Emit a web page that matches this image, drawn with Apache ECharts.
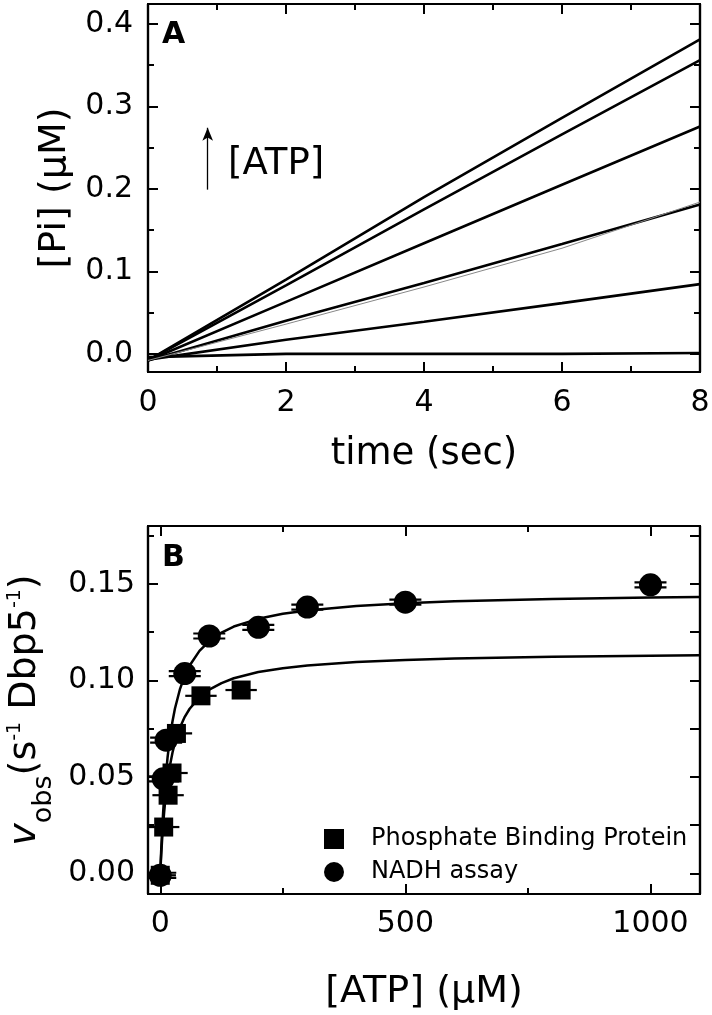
<!DOCTYPE html>
<html><head><meta charset="utf-8">
<script src="https://cdn.jsdelivr.net/npm/echarts@6/dist/echarts.min.js"></script>
<style>html,body{margin:0;padding:0;background:#fff}#c{width:712px;height:1015px}</style>
</head><body><div id="c"></div>
<script>
// ---------- Panel A data ----------
const timeA = [0, 2, 4, 6, 8];
const piLine1 = [-0.008, 0.090, 0.190, 0.286, 0.381];
const piLine2 = [-0.008, 0.083, 0.175, 0.266, 0.356];
const piLine3 = [-0.008, 0.063, 0.134, 0.205, 0.2755];
const piLine4 = [-0.008, 0.040, 0.086, 0.133, 0.181];
const piLine5 = [-0.007, 0.017, 0.039, 0.0615, 0.0845];
const piLine6 = [-0.004, 0.000, 0.000, 0.000, 0.001];
const piTrace4 = [-0.008, 0.036, 0.081, 0.128, 0.184];
const arrowX = 0.865, arrowY = [0.199, 0.274];
const aXTicks = [0, 2, 4, 6, 8], aXMinor = [1, 3, 5, 7];
const aYTicks = [0, 0.1, 0.2, 0.3, 0.4], aYMinor = [0.05, 0.15, 0.25, 0.35];

// ---------- Panel B data ----------
const pbpX = [0, 7, 16, 24, 33, 83, 165];
const pbpY = [-0.001, 0.024, 0.0405, 0.052, 0.0725, 0.092, 0.095];
const pbpXErr = [32, 32, 32, 32, 32, 32, 32];
const nadhX = [0, 6, 12, 50, 100, 200, 300, 500, 1000];
const nadhY = [-0.001, 0.049, 0.069, 0.1035, 0.123, 0.1275, 0.138, 0.1405, 0.1495];
const nadhYErr = [0.0013, 0.0013, 0.0013, 0.0013, 0.0013, 0.0013, 0.0013, 0.0013, 0.0013];
const fitX = [0, 2, 4, 6, 8, 10, 15, 20, 25, 30, 40, 50, 60, 80, 100, 125, 150, 200, 250, 300, 400, 500, 600, 800, 1000, 1100];
const nadhFitY = [0, 0.0125, 0.0231, 0.0321, 0.0399, 0.0466, 0.0603, 0.0707, 0.0788, 0.0854, 0.0953, 0.1024, 0.1077, 0.1153, 0.1204, 0.1248, 0.1279, 0.1319, 0.1345, 0.1362, 0.1386, 0.1400, 0.1410, 0.1422, 0.1430, 0.1432];
const pbpFitY = [0, 0.0100, 0.0184, 0.0256, 0.0318, 0.0372, 0.0480, 0.0562, 0.0626, 0.0678, 0.0755, 0.0811, 0.0853, 0.0912, 0.0952, 0.0986, 0.1011, 0.1043, 0.1063, 0.1077, 0.1095, 0.1106, 0.1113, 0.1123, 0.1128, 0.1130];
const bXTicks = [0, 500, 1000], bXMinor = [250, 750];
const bYTicks = [0, 0.05, 0.10, 0.15], bYMinor = [0.025, 0.075, 0.125, 0.175];
const legendNames = ['Phosphate Binding Protein', 'NADH assay'];

const FONT = 'DejaVu Sans';
const BLACK = '#000';

function ax(grid, pos, min, max, vals, len, label, extra) {
  return Object.assign({
    type: 'value', gridIndex: grid, position: pos, min: min, max: max,
    axisLine: { show: true, onZero: false, lineStyle: { color: BLACK, width: 2.2 } },
    axisTick: { show: true, inside: true, length: len, customValues: vals, lineStyle: { color: BLACK, width: 2 } },
    axisLabel: label ? Object.assign({ show: true, customValues: vals, color: BLACK, fontFamily: FONT, fontSize: 30 }, label) : { show: false },
    splitLine: { show: false },
    minorTick: { show: false }
  }, extra || {});
}

const aXmin = 0, aXmax = 8, aYmin = -0.022, aYmax = 0.424;
const bXmin = -25, bXmax = 1101, bYmin = -0.0107, bYmax = 0.18;

const xAxes = [
  ax(0, 'bottom', aXmin, aXmax, aXTicks, 10, { margin: 16, formatter: v => String(v) },
     { name: 'time (sec)', nameLocation: 'middle', nameGap: 64,
       nameTextStyle: { fontFamily: FONT, fontSize: 37, color: BLACK } }),
  ax(0, 'bottom', aXmin, aXmax, aXMinor, 6, null),
  ax(0, 'top', aXmin, aXmax, aXTicks, 10, null),
  ax(0, 'top', aXmin, aXmax, aXMinor, 6, null),
  ax(1, 'bottom', bXmin, bXmax, bXTicks, 10, { margin: 15, formatter: v => String(v) },
     { name: '[ATP] (\u03bcM)', nameLocation: 'middle', nameGap: 79,
       nameTextStyle: { fontFamily: FONT, fontSize: 38, color: BLACK } }),
  ax(1, 'bottom', bXmin, bXmax, bXMinor, 6, null),
  ax(1, 'top', bXmin, bXmax, bXTicks, 10, null),
  ax(1, 'top', bXmin, bXmax, bXMinor, 6, null)
];
const yAxes = [
  ax(0, 'left', aYmin, aYmax, aYTicks, 10, { margin: 15, formatter: v => v.toFixed(1) },
     { name: '[Pi] (\u03bcM)', nameLocation: 'middle', nameGap: 71,
       nameTextStyle: { fontFamily: FONT, fontSize: 38, color: BLACK } }),
  ax(0, 'left', aYmin, aYmax, aYMinor, 6, null),
  ax(0, 'right', aYmin, aYmax, aYTicks, 10, null),
  ax(0, 'right', aYmin, aYmax, aYMinor, 6, null),
  ax(1, 'left', bYmin, bYmax, bYTicks, 10, { margin: 13, formatter: v => v.toFixed(2) },
     { name: '{v|v}{sub|obs}{n|(s}{sup|-1}{n| Dbp5}{sup|-1}{n|)}', nameLocation: 'middle', nameGap: 90,
       nameTextStyle: { fontFamily: FONT, fontSize: 38, color: BLACK,
         rich: {
           v: { fontFamily: FONT, fontSize: 38, fontStyle: 'italic', color: BLACK, lineHeight: 38 },
           n: { fontFamily: FONT, fontSize: 38, color: BLACK, lineHeight: 38 },
           sub: { fontFamily: FONT, fontSize: 27, color: BLACK, lineHeight: 27, padding: [38, 0, 0, 0] },
           sup: { fontFamily: FONT, fontSize: 19, color: BLACK, lineHeight: 19, padding: [0, 0, 20, 0] }
         } } }),
  ax(1, 'left', bYmin, bYmax, bYMinor, 6, null),
  ax(1, 'right', bYmin, bYmax, bYTicks, 10, null),
  ax(1, 'right', bYmin, bYmax, bYMinor, 10, null)
];

function pairs(xs, ys) { return xs.map((x, i) => [x, ys[i]]); }

function lineA(arr, extra) {
  return Object.assign({
    type: 'line', xAxisIndex: 0, yAxisIndex: 0, data: pairs(timeA, arr),
    symbol: 'none', lineStyle: { color: BLACK, width: 2.6 }, z: 3, silent: true
  }, extra || {});
}

const CAP = 16;
function errRender(params, api) {
  const x = api.value(0), y = api.value(1), xe = api.value(2), ye = api.value(3);
  const c = api.coord([x, y]);
  const st = { stroke: BLACK, lineWidth: 2.2 };
  const ch = [];
  if (xe > 0) {
    const a = api.coord([x - xe, y]), b = api.coord([x + xe, y]);
    ch.push({ type: 'line', shape: { x1: a[0], y1: c[1], x2: b[0], y2: c[1] }, style: st });
  }
  if (ye > 0) {
    const t = api.coord([x, y + ye]), bt = api.coord([x, y - ye]);
    [t[1], bt[1]].forEach(yy => ch.push({ type: 'line', shape: { x1: c[0] - CAP, y1: yy, x2: c[0] + CAP, y2: yy }, style: st }));
  }
  return { type: 'group', children: ch };
}

const option = {
  animation: false,
  backgroundColor: '#fff',
  textStyle: { fontFamily: FONT },
  grid: [
    { left: 148, right: 12, top: 4, height: 368, containLabel: false, outerBoundsMode: 'none' },
    { left: 148, right: 12, top: 526, height: 368, containLabel: false, outerBoundsMode: 'none' }
  ],
  xAxis: xAxes,
  yAxis: yAxes,
  legend: {
    data: [{ name: legendNames[0], icon: 'rect' }, { name: legendNames[1], icon: 'circle' }],
    orient: 'vertical', left: 319, top: 822, itemWidth: 20, itemHeight: 20, itemGap: 9,
    textStyle: { fontFamily: FONT, fontSize: 24, color: BLACK, padding: [0, 0, 0, 22] },
    itemStyle: { opacity: 1 },
    selectedMode: false
  },
  graphic: [
    { type: 'text', x: 162, y: 20, style: { text: 'A', font: 'bold 30px "DejaVu Sans"', fill: BLACK } },
    { type: 'text', x: 162, y: 543, style: { text: 'B', font: 'bold 30px "DejaVu Sans"', fill: BLACK } },
    { type: 'text', x: 228, y: 164, style: { text: '[ATP]', font: '37px "DejaVu Sans"', fill: BLACK, verticalAlign: 'middle' } }
  ],
  series: [
    lineA(piLine1), lineA(piLine2), lineA(piLine3), lineA(piLine4), lineA(piLine5),
    lineA(piLine6, {
      markLine: {
        silent: true, symbol: ['none', 'arrow'], symbolSize: [8, 13],
        lineStyle: { color: BLACK, width: 1.3, type: 'solid' }, label: { show: false },
        data: [[{ coord: [arrowX, arrowY[0]] }, { coord: [arrowX, arrowY[1]] }]]
      }
    }),
    lineA(piTrace4, { lineStyle: { color: '#888', width: 1 }, z: 4 }),
    { type: 'line', xAxisIndex: 4, yAxisIndex: 4, data: pairs(fitX, nadhFitY), symbol: 'none',
      lineStyle: { color: BLACK, width: 2.5 }, z: 2, silent: true },
    { type: 'line', xAxisIndex: 4, yAxisIndex: 4, data: pairs(fitX, pbpFitY), symbol: 'none',
      lineStyle: { color: BLACK, width: 2.5 }, z: 2, silent: true },
    { type: 'custom', xAxisIndex: 4, yAxisIndex: 4, renderItem: errRender, clip: true, z: 3, silent: true,
      data: pbpX.map((x, i) => [x, pbpY[i], pbpXErr[i], 0]) },
    { type: 'custom', xAxisIndex: 4, yAxisIndex: 4, renderItem: errRender, clip: true, z: 3, silent: true,
      data: nadhX.map((x, i) => [x, nadhY[i], 0, nadhYErr[i]]) },
    { type: 'scatter', name: legendNames[0], xAxisIndex: 4, yAxisIndex: 4, symbol: 'rect', symbolSize: 19,
      itemStyle: { color: BLACK, opacity: 1 }, data: pairs(pbpX, pbpY), z: 5, silent: true },
    { type: 'scatter', name: legendNames[1], xAxisIndex: 4, yAxisIndex: 4, symbol: 'circle', symbolSize: 23,
      itemStyle: { color: BLACK, opacity: 1 }, data: pairs(nadhX, nadhY), z: 5, silent: true }
  ]
};

const chart = echarts.init(document.getElementById('c'), null, { renderer: 'canvas', width: 712, height: 1015 });
chart.setOption(option);
</script>
</body></html>
